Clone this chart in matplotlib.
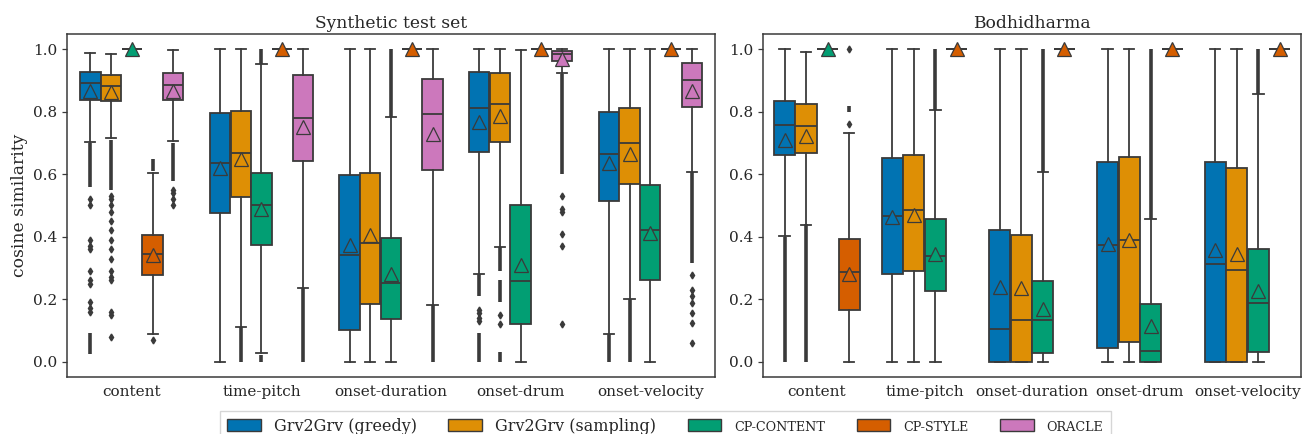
import matplotlib.pyplot as plt
from matplotlib.patches import Patch

plt.rcParams['font.family'] = ['DejaVu Serif']

CATEGORIES = ["content", "time-pitch", "onset-duration", "onset-drum", "onset-velocity"]
MODELS = ["Grv2Grv (greedy)", "Grv2Grv (sampling)", "CP-CONTENT", "CP-STYLE", "ORACLE"]
COLORS = ["#0173b2", "#de8f05", "#029e73", "#d55e00", "#cc78bc"]
GRAY = "#3a3a3a"

# Synthetic test set -- one row per model, one column per category
syn_whislo = [[0.703, 0.0, 0.0, 0.281, 0.089],
              [0.717, 0.112, 0.0, 0.367, 0.20],
              [1.0, 0.027, 0.0, 0.0, 0.0],
              [0.088, 1.0, 1.0, 1.0, 1.0],
              [0.708, 0.235, 0.182, 0.923, 0.606]]
syn_q1 = [[0.837, 0.476, 0.102, 0.671, 0.516],
          [0.834, 0.527, 0.185, 0.703, 0.568],
          [1.0, 0.374, 0.136, 0.121, 0.26],
          [0.278, 1.0, 1.0, 1.0, 1.0],
          [0.837, 0.644, 0.615, 0.963, 0.816]]
syn_med = [[0.892, 0.636, 0.342, 0.814, 0.665],
           [0.882, 0.668, 0.38, 0.824, 0.699],
           [1.0, 0.50, 0.251, 0.257, 0.42],
           [0.344, 1.0, 1.0, 1.0, 1.0],
           [0.887, 0.781, 0.793, 0.984, 0.902]]
syn_q3 = [[0.927, 0.795, 0.599, 0.929, 0.799],
          [0.917, 0.804, 0.603, 0.925, 0.811],
          [1.0, 0.605, 0.395, 0.503, 0.567],
          [0.406, 1.0, 1.0, 1.0, 1.0],
          [0.923, 0.917, 0.904, 0.994, 0.957]]
syn_whishi = [[0.989, 1.0, 1.0, 1.0, 1.0],
              [0.986, 1.0, 1.0, 1.0, 1.0],
              [1.0, 0.954, 0.784, 0.998, 1.0],
              [0.604, 1.0, 1.0, 1.0, 1.0],
              [0.997, 1.0, 1.0, 1.0, 1.0]]
syn_mean = [[0.866, 0.62, 0.372, 0.768, 0.636],
            [0.863, 0.649, 0.404, 0.788, 0.665],
            [1.0, 0.49, 0.281, 0.31, 0.412],
            [0.342, 1.0, 1.0, 1.0, 1.0],
            [0.866, 0.752, 0.729, 0.968, 0.868]]
# dense runs of outliers (low, high) and isolated outliers
syn_flier_runs = [[[(0.56, 0.70), (0.025, 0.09)], [], [], [(0.21, 0.28), (0.0, 0.09)], [(0.0, 0.089)]],
                  [[(0.55, 0.71)], [(0.0, 0.11)], [], [(0.29, 0.367), (0.19, 0.26), (0.0, 0.03)], [(0.0, 0.20)]],
                  [[], [(0.955, 1.0), (0.0, 0.02)], [(0.784, 1.0)], [], []],
                  [[(0.61, 0.65)], [], [], [], []],
                  [[(0.58, 0.70)], [(0.0, 0.235)], [(0.0, 0.18)], [(0.60, 0.92)], [(0.315, 0.606)]]]
syn_flier_pts = [[[0.52, 0.50, 0.39, 0.37, 0.36, 0.29, 0.26, 0.25, 0.19, 0.17, 0.16], [], [], [0.166, 0.155, 0.14, 0.13], []],
                 [[0.53, 0.52, 0.50, 0.48, 0.45, 0.42, 0.39, 0.36, 0.33, 0.29, 0.27, 0.26, 0.16, 0.15, 0.08], [], [], [0.15, 0.12], []],
                 [[], [], [], [], []],
                 [[0.07], [], [], [], []],
                 [[0.55, 0.54, 0.52, 0.50], [], [], [0.53, 0.49, 0.48, 0.41, 0.37, 0.12],
                  [0.278, 0.23, 0.209, 0.187, 0.155, 0.123, 0.059]]]

# Bodhidharma -- no ORACLE
bod_whislo = [[0.401, 0.0, 0.0, 0.0, 0.0],
              [0.439, 0.0, 0.0, 0.0, 0.0],
              [1.0, 0.0, 0.0, 0.0, 0.0],
              [0.0, 1.0, 1.0, 1.0, 1.0]]
bod_q1 = [[0.661, 0.28, 0.0, 0.043, 0.0],
          [0.668, 0.289, 0.0, 0.064, 0.0],
          [1.0, 0.227, 0.027, 0.0, 0.029],
          [0.166, 1.0, 1.0, 1.0, 1.0]]
bod_med = [[0.759, 0.465, 0.105, 0.374, 0.312],
           [0.756, 0.484, 0.132, 0.388, 0.294],
           [1.0, 0.339, 0.132, 0.034, 0.187],
           [0.286, 1.0, 1.0, 1.0, 1.0]]
bod_q3 = [[0.834, 0.652, 0.42, 0.64, 0.639],
          [0.824, 0.661, 0.406, 0.656, 0.62],
          [1.0, 0.458, 0.259, 0.184, 0.36],
          [0.394, 1.0, 1.0, 1.0, 1.0]]
bod_whishi = [[1.0, 1.0, 1.0, 1.0, 1.0],
              [0.991, 1.0, 1.0, 1.0, 1.0],
              [1.0, 0.807, 0.607, 0.458, 0.856],
              [0.733, 1.0, 1.0, 1.0, 1.0]]
bod_mean = [[0.711, 0.463, 0.239, 0.378, 0.358],
            [0.722, 0.471, 0.235, 0.39, 0.345],
            [1.0, 0.345, 0.168, 0.114, 0.225],
            [0.28, 1.0, 1.0, 1.0, 1.0]]
bod_flier_runs = [[[(0.0, 0.40)], [], [], [], []],
                  [[(0.0, 0.44)], [], [], [], []],
                  [[], [(0.807, 1.0)], [(0.607, 1.0)], [(0.458, 1.0)], [(0.856, 1.0)]],
                  [[(0.80, 0.82)], [], [], [], []]]
bod_flier_pts = [[[], [], [], [], []],
                 [[], [], [], [], []],
                 [[], [], [], [], []],
                 [[1.0, 0.76], [], [], [], []]]


def draw_panel(ax, whislo, q1, med, q3, whishi, mean, runs, pts):
    n = len(whislo)
    step = 0.8 / n
    width = step * 0.98
    for h in range(n):
        offset = (h - (n - 1) / 2) * step
        for c in range(len(CATEGORIES)):
            pos = c + offset
            stats = [dict(whislo=whislo[h][c], q1=q1[h][c], med=med[h][c], q3=q3[h][c],
                          whishi=whishi[h][c], mean=mean[h][c], fliers=[])]
            ax.bxp(stats, positions=[pos], widths=width, patch_artist=True,
                   showmeans=True, manage_ticks=False,
                   boxprops=dict(facecolor=COLORS[h], edgecolor=GRAY, linewidth=1.3),
                   medianprops=dict(color=GRAY, linewidth=1.3),
                   whiskerprops=dict(color=GRAY, linewidth=1.3),
                   capprops=dict(color=GRAY, linewidth=1.3),
                   meanprops=dict(marker="^", markersize=10, markerfacecolor=COLORS[h],
                                  markeredgecolor=GRAY, markeredgewidth=0.9))
            for lo, hi in runs[h][c]:
                ax.vlines(pos, lo, hi, color=GRAY, linewidth=2.6, zorder=2)
            if pts[h][c]:
                ax.plot([pos] * len(pts[h][c]), pts[h][c], linestyle="none", marker="d",
                        markersize=3.5, color=GRAY, zorder=2)
    ax.set_xlim(-0.5, len(CATEGORIES) - 0.5)
    ax.set_ylim(-0.05, 1.05)
    ax.set_xticks(range(len(CATEGORIES)))
    ax.set_xticklabels(CATEGORIES, fontsize=11)
    ax.set_yticks([0.0, 0.2, 0.4, 0.6, 0.8, 1.0])
    ax.set_yticklabels(["0.0", "0.2", "0.4", "0.6", "0.8", "1.0"], fontsize=11)
    ax.tick_params(axis="y", length=3.5, width=0.9, color=GRAY, labelcolor="#262626")
    ax.tick_params(axis="x", length=0, pad=6, labelcolor="#262626")
    for sp in ax.spines.values():
        sp.set_color(GRAY)
        sp.set_linewidth(1.1)


fig = plt.figure(figsize=(13.02, 4.34), dpi=100)
ax_syn = fig.add_axes([0.0515, 0.131, 0.4977, 0.791])
ax_bod = fig.add_axes([0.586, 0.131, 0.4135, 0.791])

draw_panel(ax_syn, syn_whislo, syn_q1, syn_med, syn_q3, syn_whishi, syn_mean,
           syn_flier_runs, syn_flier_pts)
draw_panel(ax_bod, bod_whislo, bod_q1, bod_med, bod_q3, bod_whishi, bod_mean,
           bod_flier_runs, bod_flier_pts)

ax_syn.set_title("Synthetic test set", fontsize=12.3, color="#262626", pad=4)
ax_bod.set_title("Bodhidharma", fontsize=12.3, color="#262626", pad=4)
ax_syn.set_ylabel("cosine similarity", fontsize=12.3, color="#262626")

handles = [Patch(facecolor=col, edgecolor=GRAY, linewidth=1.0) for col in COLORS]
leg = fig.legend(handles, MODELS, loc="upper center", bbox_to_anchor=(0.511, 0.054),
                 borderaxespad=0.0, ncol=5, fontsize=11.5, frameon=True, fancybox=False,
                 handlelength=2.1, handleheight=0.8, columnspacing=2.0,
                 borderpad=0.45, edgecolor="#cccccc")
for t in leg.get_texts()[2:]:
    t.set_fontsize(9.2)
for t in leg.get_texts():
    t.set_color("#262626")

fig.savefig("out.png", dpi=100)
